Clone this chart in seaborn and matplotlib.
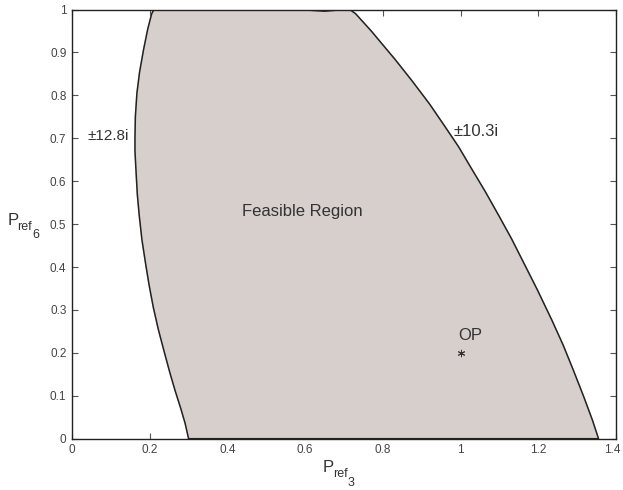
import matplotlib
matplotlib.use("Agg")
import matplotlib.pyplot as plt
import matplotlib.transforms as mtransforms
import seaborn as sns
import pandas as pd

# Boundary of the feasible region (clockwise from bottom-left)
boundary_x = [0.300, 0.291, 0.280, 0.266, 0.253, 0.238, 0.222, 0.209, 0.198, 0.189,
              0.180, 0.173, 0.168, 0.165, 0.162, 0.162, 0.163, 0.167, 0.174, 0.184,
              0.195, 0.205, 0.211,
              0.400, 0.600, 0.650, 0.700,
              0.718, 0.730, 0.770, 0.832, 0.874, 0.920, 0.960, 0.995, 1.025, 1.064,
              1.100, 1.131, 1.159, 1.198, 1.235, 1.264, 1.290, 1.316, 1.339, 1.355]
boundary_y = [0.000, 0.036, 0.070, 0.110, 0.150, 0.200, 0.255, 0.307, 0.360, 0.410,
              0.463, 0.520, 0.570, 0.619, 0.670, 0.700, 0.750, 0.805, 0.855, 0.906,
              0.955, 0.990, 1.000,
              1.000, 0.999, 0.996, 1.000,
              0.998, 0.990, 0.950, 0.883, 0.835, 0.780, 0.727, 0.680, 0.634, 0.575,
              0.517, 0.466, 0.416, 0.346, 0.276, 0.218, 0.160, 0.100, 0.044, 0.000]

op_x = [1.0]
op_y = [0.2]

x_ticks = [0, 0.2, 0.4, 0.6, 0.8, 1, 1.2, 1.4]
x_tick_labels = ["0", "0.2", "0.4", "0.6", "0.8", "1", "1.2", "1.4"]
y_ticks = [0, 0.1, 0.2, 0.3, 0.4, 0.5, 0.6, 0.7, 0.8, 0.9, 1]
y_tick_labels = ["0", "0.1", "0.2", "0.3", "0.4", "0.5", "0.6", "0.7", "0.8", "0.9", "1"]

sns.set_style("ticks")
plt.rcParams['font.family'] = ['Liberation Sans', 'DejaVu Sans']

W, H = 623, 490
fig = plt.figure(figsize=(W / 100, H / 100), dpi=100)
ax = fig.add_axes([0.1156, 0.1047, 0.8732, 0.8759])

df = pd.DataFrame({"x": boundary_x + [boundary_x[0]], "y": boundary_y + [boundary_y[0]]})
ax.fill(df["x"], df["y"], color="#d6cfcc", zorder=1)
sns.lineplot(data=df, x="x", y="y", sort=False, estimator=None, color="#222222",
             linewidth=1.1, ax=ax, zorder=2)

sns.scatterplot(x=op_x, y=op_y, marker=(6, 2, 0), s=22, color="#333333",
                linewidth=0.7, ax=ax, zorder=3)

ax.text(0.039, 0.705, "±12.8i", fontsize=11, color="#333333", va="center", ha="left")
ax.text(0.982, 0.716, "±10.3i", fontsize=12, color="#333333", va="center", ha="left")
ax.text(0.593, 0.530, "Feasible Region", fontsize=12, color="#333333", va="center", ha="center")
ax.text(0.995, 0.241, "OP", fontsize=12, color="#333333", va="center", ha="left")

ax.set_xlim(0, 1.4)
ax.set_ylim(0, 1)
ax.set_xticks(x_ticks)
ax.set_xticklabels(x_tick_labels)
ax.set_yticks(y_ticks)
ax.set_yticklabels(y_tick_labels)
ax.tick_params(direction="in", length=4, width=0.8, colors="#555555", labelsize=8.5,
               labelcolor="#444444", top=True, right=True, pad=4)
for s in ax.spines.values():
    s.set_visible(True)
    s.set_color("#222222")
    s.set_linewidth(1.0)
ax.set_xlabel("")
ax.set_ylabel("")

# keep the last x tick label inside the canvas
last = ax.get_xticklabels()[-1]
last.set_transform(last.get_transform() +
                   mtransforms.ScaledTranslation(-3 / 72, 0, fig.dpi_scale_trans))


def ptext(x, y, s, size):
    fig.text(x / W, 1 - y / H, s, fontsize=size, color="#333333", ha="left", va="baseline")


# x label: P_ref_3
ptext(323, 472, "P", 12)
ptext(333.5, 477, "ref", 9)
ptext(347.5, 486, "3", 9)
# y label: P_ref_6
ptext(8, 225, "P", 12)
ptext(17.5, 230, "ref", 9)
ptext(32, 238, "6", 9)

fig.savefig("out.png", dpi=100)
